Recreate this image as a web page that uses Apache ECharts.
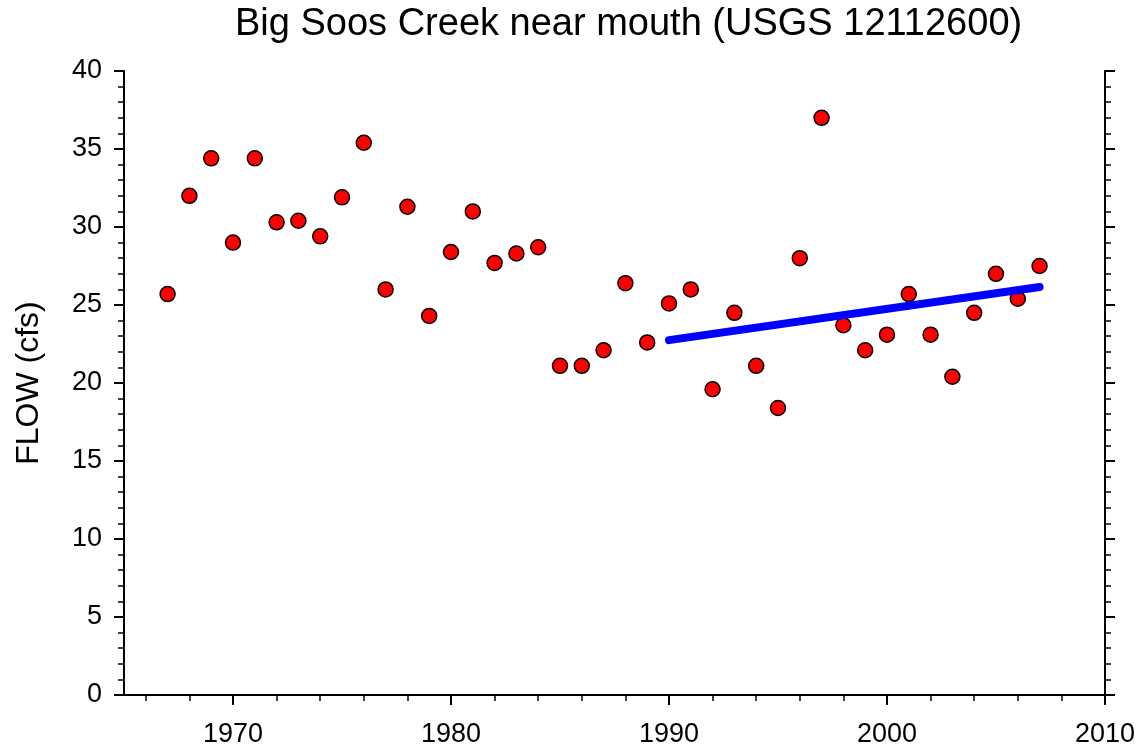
<!DOCTYPE html>
<html>
<head>
<meta charset="utf-8">
<script src="https://cdn.jsdelivr.net/npm/echarts@6/dist/echarts.min.js"></script>
<style>
html,body{margin:0;padding:0;background:#fff;}
#chart{width:1138px;height:748px;}
</style>
</head>
<body>
<div id="chart"></div>
<script>
const titleText = 'Big Soos Creek near mouth (USGS 12112600)';
const yAxisName = 'FLOW (cfs)';
const xTickLabels = [1970, 1980, 1990, 2000, 2010];
const xMinorTicks = [1966,1968,1972,1974,1976,1978,1982,1984,1986,1988,1992,1994,1996,1998,2002,2004,2006,2008];
const years = [1967,1968,1969,1970,1971,1972,1973,1974,1975,1976,1977,1978,1979,1980,1981,1982,1983,1984,1985,1986,1987,1988,1989,1990,1991,1992,1993,1994,1995,1996,1997,1998,1999,2000,2001,2002,2003,2004,2005,2006,2007];
const flows = [25.7,32.0,34.4,29.0,34.4,30.3,30.4,29.4,31.9,35.4,26.0,31.3,24.3,28.4,31.0,27.7,28.3,28.7,21.1,21.1,22.1,26.4,22.6,25.1,26.0,19.6,24.5,21.1,18.4,28.0,37.0,23.7,22.1,23.1,25.7,23.1,20.4,24.5,27.0,25.4,27.5];
const trendYears = [1990, 2007];
const trendValues = [22.75, 26.15];

const font = 'Liberation Sans, Arial, sans-serif';
const chart = echarts.init(document.getElementById('chart'), null, {renderer:'canvas'});
const axisLine = {show:true, lineStyle:{color:'#000', width:2}};
chart.setOption({
  animation:false,
  backgroundColor:'#fff',
  title:{text:titleText, left:230, top:1, textStyle:{fontFamily:font, fontSize:38, fontWeight:'normal', color:'#000'}},
  grid:{left:124, right:33, top:71, bottom:53, containLabel:false},
  xAxis:[{
    type:'value', min:1965, max:2010, position:'bottom',
    axisLine:axisLine,
    axisTick:{show:true, length:10, customValues:xTickLabels, lineStyle:{color:'#000', width:2}},
    axisLabel:{show:true, margin:26, customValues:xTickLabels, fontFamily:font, fontSize:27, color:'#000',
      formatter:function(v){return String(v);}},
    splitLine:{show:false}
  },{
    type:'value', min:1965, max:2010, position:'top',
    axisLine:axisLine, axisTick:{show:false}, axisLabel:{show:false}, splitLine:{show:false}
  },{
    type:'value', min:1965, max:2010, position:'bottom', gridIndex:0,
    axisLine:{show:false},
    axisTick:{show:true, length:6, customValues:xMinorTicks, lineStyle:{color:'#000', width:1.5}},
    axisLabel:{show:false}, splitLine:{show:false}
  }],
  yAxis:[{
    type:'value', min:0, max:40, interval:5, position:'left',
    name:yAxisName, nameLocation:'middle', nameGap:79, nameRotate:90,
    nameTextStyle:{fontFamily:font, fontSize:32, color:'#000'},
    axisLine:axisLine,
    axisTick:{show:true, length:10, lineStyle:{color:'#000', width:2}},
    minorTick:{show:true, splitNumber:5, length:6, lineStyle:{color:'#000', width:1.5}},
    axisLabel:{show:true, margin:22, fontFamily:font, fontSize:27, color:'#000'},
    splitLine:{show:false}
  },{
    type:'value', min:0, max:40, interval:5, position:'right',
    axisLine:axisLine,
    axisTick:{show:true, length:10, lineStyle:{color:'#000', width:2}},
    minorTick:{show:true, splitNumber:5, length:6, lineStyle:{color:'#000', width:1.5}},
    axisLabel:{show:false}, splitLine:{show:false}
  }],
  series:[{
    type:'scatter', xAxisIndex:0, yAxisIndex:0, z:2,
    symbol:'circle', symbolSize:15,
    itemStyle:{color:'#ff0000', borderColor:'#000', borderWidth:1.5, opacity:1},
    data: years.map((y,i)=>[y, flows[i]])
  },{
    type:'line', xAxisIndex:0, yAxisIndex:0, z:5,
    symbol:'none', silent:true,
    lineStyle:{color:'#0000ff', width:8, cap:'round'},
    data: trendYears.map((y,i)=>[y, trendValues[i]])
  }]
});
</script>
</body>
</html>
